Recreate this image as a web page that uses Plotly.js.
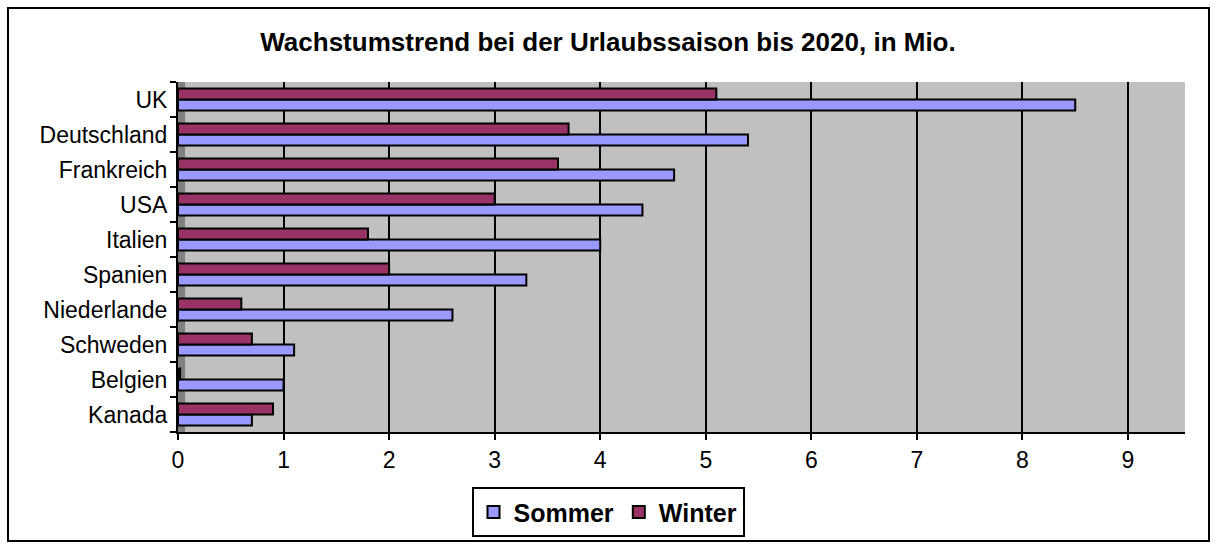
<!DOCTYPE html>
<html>
<head>
<meta charset="utf-8">
<script src="https://cdn.plot.ly/plotly-3.0.1.min.js"></script>
<style>
  html, body { margin: 0; padding: 0; background: #fff; }
  #wrap { position: relative; width: 1216px; height: 548px; }
  #chart { width: 1216px; height: 548px; }
  #frame { position: absolute; left: 7px; top: 7px; width: 1199px; height: 531px;
           border: 2px solid #000; pointer-events: none; }
</style>
</head>
<body>
<div id="wrap">
  <div id="chart"></div>
  <div id="frame"></div>
</div>
<script>
// Data (top-to-bottom order as shown)
const categories = ["UK", "Deutschland", "Frankreich", "USA", "Italien", "Spanien", "Niederlande", "Schweden", "Belgien", "Kanada"];
const sommer = [8.5, 5.4, 4.7, 4.4, 4.0, 3.3, 2.6, 1.1, 1.0, 0.7];
const winter = [5.1, 3.7, 3.6, 3.0, 1.8, 2.0, 0.6, 0.7, 0.02, 0.9];
const seriesNames = ["Sommer", "Winter"];
const xTicks = [0, 1, 2, 3, 4, 5, 6, 7, 8, 9];

const fontFam = "Liberation Sans, Arial, sans-serif";

const traces = [
  {
    type: "bar", orientation: "h", name: seriesNames[0],
    y: categories, x: sommer,
    marker: { color: "#9999FF", line: { color: "#000", width: 2 } },
    hoverinfo: "x+y"
  },
  {
    type: "bar", orientation: "h", name: seriesNames[1],
    y: categories, x: winter,
    marker: { color: "#993366", line: { color: "#000", width: 2 } },
    hoverinfo: "x+y"
  }
];

const layout = {
  width: 1216, height: 548,
  margin: { l: 178, r: 31, t: 82, b: 116, autoexpand: false },
  paper_bgcolor: "#fff",
  plot_bgcolor: "#C0C0C0",
  font: { family: fontFam, color: "#000", size: 23 },
  title: {
    text: "<b>Wachstumstrend bei der Urlaubssaison bis 2020, in Mio.</b>",
    font: { family: fontFam, size: 26, color: "#000" },
    x: 0.5, xanchor: "center", xref: "container",
    y: 1 - 42 / 548, yref: "container", yanchor: "middle"
  },
  barmode: "group",
  bargap: 0.37,
  bargroupgap: 0,
  xaxis: {
    range: [0, 9.54],
    tickvals: xTicks,
    ticktext: xTicks.map(String),
    showgrid: true, gridcolor: "#000", gridwidth: 2,
    zeroline: false,
    showline: true, linecolor: "#000", linewidth: 2,
    ticks: "outside", ticklen: 6, tickcolor: "#000", tickwidth: 2,
    tickfont: { family: fontFam, size: 23, color: "#000" },
    fixedrange: true
  },
  yaxis: {
    type: "category",
    categoryorder: "array",
    categoryarray: categories.slice().reverse(),
    showgrid: false,
    zeroline: false,
    showline: true, linecolor: "#000", linewidth: 2,
    ticks: "outside", tickson: "boundaries", ticklen: 6, tickcolor: "#000", tickwidth: 2,
    ticklabelstandoff: 4,
    tickfont: { family: fontFam, size: 23, color: "#000" },
    fixedrange: true
  },
  showlegend: true,
  legend: {
    orientation: "h",
    x: (608 - 178) / 1007, xanchor: "center", xref: "paper",
    y: -0.229, yanchor: "middle",
    bordercolor: "#000", borderwidth: 2,
    bgcolor: "#fff",
    font: { family: fontFam, size: 25, color: "#000", weight: "bold" },
    itemwidth: 30,
    traceorder: "normal"
  },
  shapes: [
    { type: "rect", xref: "paper", yref: "paper", x0: 0, x1: 0.007, y0: 0, y1: 1,
      fillcolor: "#808080", line: { width: 0 }, layer: "below" }
  ]
};

Plotly.newPlot("chart", traces, layout, { displayModeBar: false, staticPlot: true });
</script>
</body>
</html>
